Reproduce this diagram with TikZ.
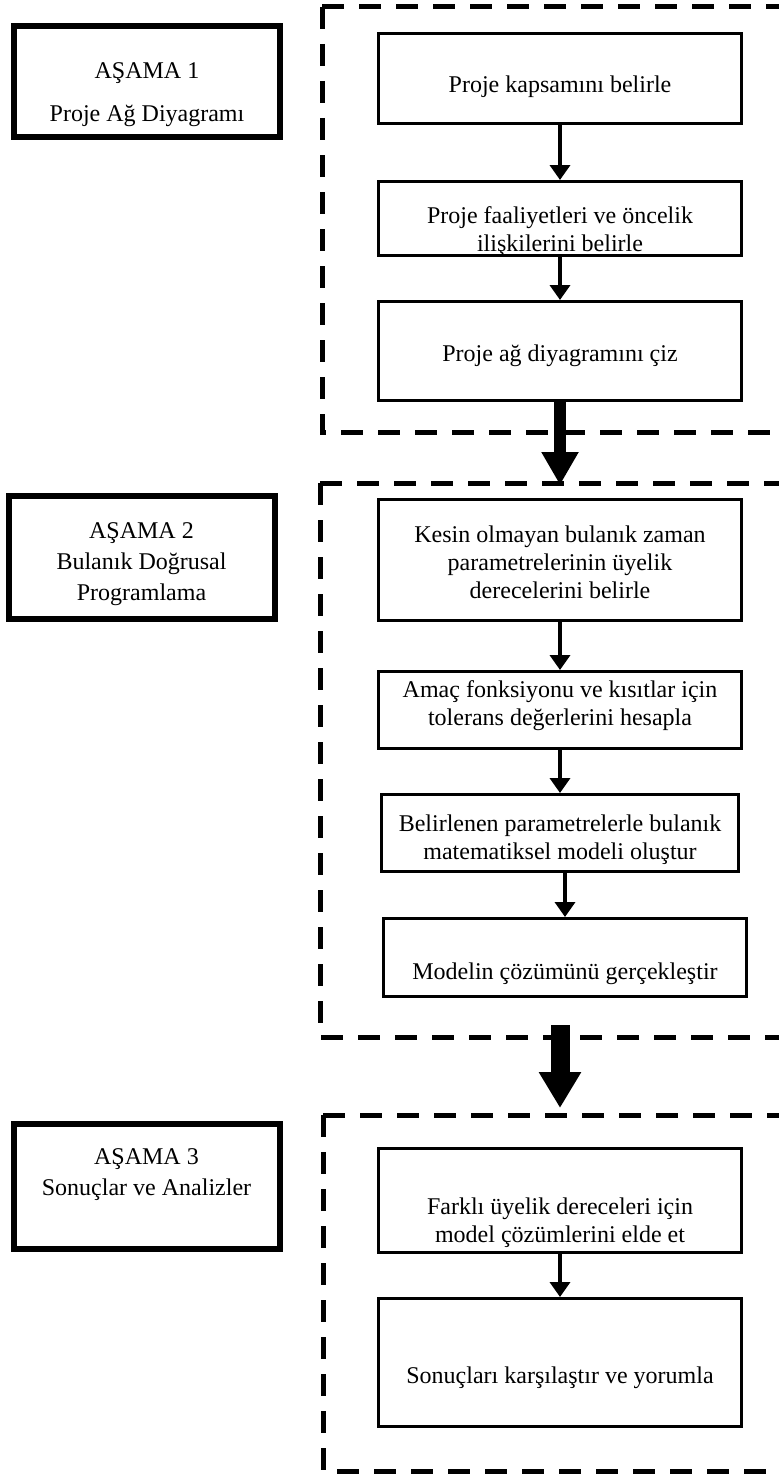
\documentclass[tikz,border=0pt]{standalone}
\usepackage{fontspec}
\setmainfont{Liberation Serif}
\usetikzlibrary{
  arrows.meta,
  positioning,
}
\tikzset{
  x = 0.5pt,
  y = -0.5pt,
  stagebox/.style={
    draw, line width=3pt, align=center, inner sep=0pt,
    minimum width=133pt, font=\fontsize{12}{14}\selectfont,
  },
  stepbox/.style={
    draw, line width=1.5pt, align=center, inner sep=0pt,
    minimum width=181.5pt, font=\fontsize{12}{14}\selectfont,
  },
  flow/.style={line width=1.8pt, -{Triangle[length=7.5pt,width=10pt]}},
  bigflow/.style={line width=6pt, -{Triangle[length=16.5pt,width=17.5pt]}},
  hugeflow/.style={line width=9.5pt, -{Triangle[length=18pt,width=20pt]}},
  dashframe/.style={line width=2.5pt, dash pattern=on 11pt off 7.5pt},
}
\begin{document}
\begin{tikzpicture}
  \useasboundingbox (0,0) rectangle (778,1477);
  %% stages
  \node[stagebox, text height=47.5pt, text depth=8pt](S1) at (147,81.5)
    {AŞAMA 1\\[7pt]Proje Ağ Diyagramı};
  \node[stagebox, text height=52pt, text depth=9.5pt](S2) at (141.5,557.5)
    {AŞAMA 2\\[1.5pt]Bulanık Doğrusal\\[1.5pt]Programlama};
  \node[stagebox, text height=35.5pt, text depth=27pt](S3) at (146.5,1186.5)
    {AŞAMA 3\\[1.5pt]Sonuçlar ve Analizler};
  %% dashed frames
  \draw[dashframe] (322,7) -- (790,7);
  \draw[dashframe] (322,7) -- (322,432) -- (790,432);
  \draw[dashframe] (320,483) -- (790,483);
  \draw[dashframe] (320,483) -- (320,1037) -- (790,1037);
  \draw[dashframe] (323,1115) -- (790,1115);
  \draw[dashframe] (323,1115) -- (323,1471) -- (790,1471);
  %% stage 1
  \node[stepbox, text height=29.5pt, text depth=15.5pt](Scope) at (560,78.5)
    {Proje kapsamını belirle};
  \node[stepbox, text height=35pt, text depth=2pt](Acts) at (560,218.5)
    {Proje faaliyetleri ve öncelik\\ilişkilerini belirle};
  \node[stepbox, text height=30pt, text depth=19.5pt](Net) at (560,351)
    {Proje ağ diyagramını çiz};
  %% stage 2
  \node[stepbox, text height=49.25pt, text depth=11.25pt](Deg) at (560,560)
    {Kesin olmayan bulanık zaman\\parametrelerinin üyelik\\derecelerini belirle};
  \node[stepbox, text height=27pt, text depth=11.5pt](Tol) at (560,710)
    {Amaç fonksiyonu ve kısıtlar için\\tolerans değerlerini hesapla};
  \node[stepbox, minimum width=178.5pt, text height=32.25pt, text depth=6.25pt](Mod) at (560,833)
    {Belirlenen parametrelerle bulanık\\matematiksel modeli oluştur};
  \node[stepbox, text height=30.5pt, text depth=8.5pt](Sol) at (565,957.5)
    {Modelin çözümünü gerçekleştir};
  %% stage 3
  \node[stepbox, text height=47pt, text depth=5pt](Res) at (560,1200.5)
    {Farklı üyelik dereceleri için\\model çözümlerini elde et};
  \node[stepbox, text height=42.5pt, text depth=21.5pt](Cmp) at (560,1362.5)
    {Sonuçları karşılaştır ve yorumla};
  %% arrows
  \draw[flow](Scope) -- (Acts);
  \draw[flow](Acts) -- (Net);
  \draw[flow](Deg) -- (Tol);
  \draw[flow](Tol) -- (Mod);
  \draw[flow](Sol.north |- Mod.south) -- (Sol.north);
  \draw[flow](Res) -- (Cmp);
  %%
  \coordinate (F2top) at (560,485);
  \coordinate (F2out) at (560,1025);
  \coordinate (F3top) at (560,1108);
  \draw[bigflow](Net.south) -- (F2top);
  \draw[hugeflow](F2out) -- (F3top);
\end{tikzpicture}
\end{document}
